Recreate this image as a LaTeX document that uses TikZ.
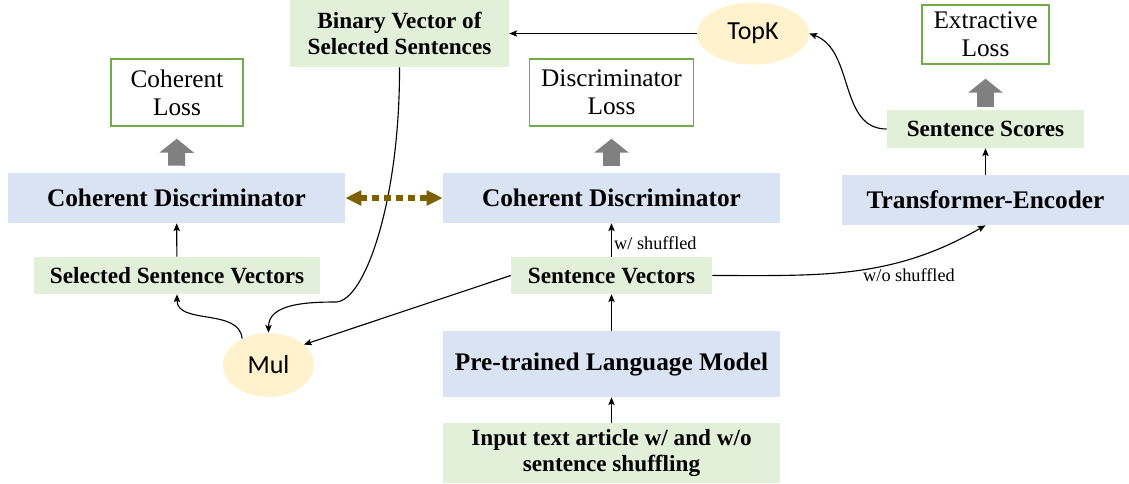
\documentclass[tikz,border=0pt]{standalone}
\usepackage{fontspec}
\setmainfont{Liberation Serif}
\newfontfamily\calibri{Carlito}
\usetikzlibrary{arrows.meta,shapes.geometric}
\definecolor{boxblue}{HTML}{DAE3F3}
\definecolor{boxgreen}{HTML}{E2F0D9}
\definecolor{linegreen}{HTML}{70AD47}
\definecolor{opyellow}{HTML}{FFF2CC}
\definecolor{fatgray}{HTML}{808080}
\definecolor{linkbrown}{HTML}{7F6000}
\begin{document}
            \begin{tikzpicture}[x=0.025cm,y=-0.025cm,
                enc/.style={fill=boxblue,inner sep=0pt,minimum width=8.425cm,minimum height=1.25cm,font=\bfseries\fontsize{18}{21}\selectfont},
                vec/.style={fill=boxgreen,inner sep=0pt,minimum height=0.925cm,align=center,font=\bfseries\fontsize{16.5}{18.5}\selectfont},
                loss/.style={draw=linegreen,line width=1pt,inner sep=0pt,minimum height=1.675cm,align=center,font=\fontsize{18}{20}\selectfont},
                op/.style={ellipse,fill=opyellow,inner sep=0pt,font=\calibri\fontsize{18.5}{21}\selectfont},
                lbl/.style={inner sep=1.5pt,font=\fontsize{13}{15}\selectfont},
                link/.style={line width=0.8pt,-{Stealth[length=5.5pt,width=4.5pt,inset=1pt]}},
                fat/.style={draw=fatgray,line width=0.425cm,-{Triangle[width=0.85cm,length=0.35cm]},shorten <=0.175cm,shorten >=0.3cm}]
                \useasboundingbox (0,0) rectangle (1129,483);
                \node[vec,minimum width=5.475cm,minimum height=1.675cm] (BV) at (399.5,33.5) {Binary Vector of\\Selected Sentences};
                \node[op,minimum width=2.8cm,minimum height=1.55cm] (TK) at (753,33.5) {TopK};
                \node[loss,minimum width=3.175cm,minimum height=1.475cm] (EL) at (985.5,34.5) {Extractive\\Loss};
                \node[loss,minimum width=3.3cm] (CL) at (177,92.5) {Coherent\\Loss};
                \node[loss,minimum width=4.1cm] (DL) at (611.5,92.5) {Discriminator\\Loss};
                \node[vec,minimum width=4.925cm,minimum height=0.95cm] (SS) at (985.5,129) {Sentence Scores};
                \node[enc] (CD1) at (176.5,198) {Coherent Discriminator};
                \node[enc] (CD2) at (611.5,198) {Coherent Discriminator};
                \node[enc,minimum width=7.15cm] (TE) at (985.5,200) {Transformer-Encoder};
                \node[vec,minimum width=7.15cm] (SSV) at (177,275.5) {Selected Sentence Vectors};
                \node[vec,minimum width=5.025cm] (SV) at (611.5,275.5) {Sentence Vectors};
                \node[op,minimum width=2.275cm,minimum height=1.6cm] (MU) at (268.5,365) {Mul};
                \node[enc,minimum height=1.65cm] (PLM) at (611.5,364) {Pre-trained Language Model};
                \node[vec,minimum width=8.425cm,minimum height=1.5cm] (IN) at (611.5,453) {Input text article w/ and w/o\\sentence shuffling};
                \node[lbl] (WO) at (909,275) {w/o shuffled};
                \coordinate (BK) at (336,302);
                \draw[link] (IN) -- (PLM);
                \draw[link] (PLM) -- (SV);
                \draw[link] (SV) -- node[lbl,right,pos=0.4] (WS) {w/ shuffled} (CD2);
                \draw[link] (SSV) -- (CD1);
                \draw[link] (TE) -- (SS);
                \draw[link] (TK) -- (BV);
                \draw[link] (SV.west) -- (MU.30);
                \draw[link] (MU.135) to[out=95,in=-90] (SSV.south);
                \draw[link] (BV.south) .. controls (400,200) and (365,301) .. (BK) to[out=180,in=90] (MU.north);
                \draw[link] (SV.east) to[out=0,in=-150] (TE.south);
                \draw[link] (SS.west) to[out=180,in=-20] (TK.east);
                \draw[fat] (CD1) -- (CL);
                \draw[fat] (CD2) -- (DL);
                \draw[fat,shorten <=0.075cm,shorten >=0.35cm] (SS) -- (EL);
                \draw[line width=0.15cm,linkbrown,dash pattern=on 0.17cm off 0.13cm,{Triangle[width=0.36cm,length=0.4cm]}-{Triangle[width=0.36cm,length=0.4cm]}] (CD1) -- (CD2);
            \end{tikzpicture}
\end{document}
